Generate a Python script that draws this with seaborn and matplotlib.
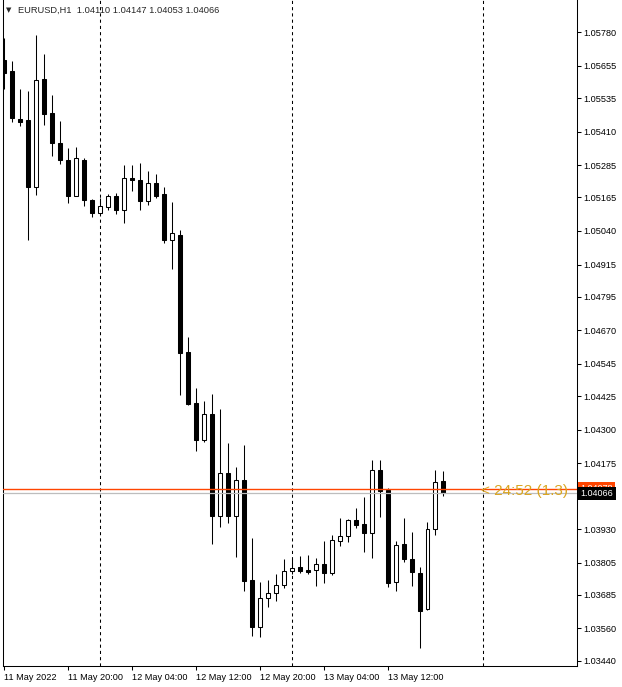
import numpy as np
import pandas as pd
import matplotlib
matplotlib.use("Agg")
import matplotlib.pyplot as plt
import seaborn as sns
from matplotlib.transforms import blended_transform_factory

# EURUSD H1 bars, 11 May 2022 12:00 .. 13 May 2022 19:00
opens = [1.05677, 1.05636, 1.05458, 1.05454, 1.05202, 1.05606, 1.05480, 1.05368, 1.05305, 1.05170,
         1.05305, 1.05157, 1.05106, 1.05131, 1.05171, 1.05118, 1.05238, 1.05231, 1.05150, 1.05220,
         1.05179, 1.05007, 1.05026, 1.04588, 1.04401, 1.04262, 1.04357, 1.03979, 1.04140, 1.03979,
         1.04114, 1.03740, 1.03566, 1.03672, 1.03691, 1.03720, 1.03772, 1.03787, 1.03777, 1.03776,
         1.03798, 1.03767, 1.03886, 1.03903, 1.03963, 1.03947, 1.03914, 1.04148, 1.04076, 1.03731,
         1.03873, 1.03817, 1.03765, 1.03631, 1.03932, 1.04110]
highs = [1.05758, 1.05673, 1.05568, 1.05562, 1.05770, 1.05699, 1.05547, 1.05450, 1.05350, 1.05354,
         1.05313, 1.05160, 1.05163, 1.05178, 1.05183, 1.05287, 1.05287, 1.05294, 1.05264, 1.05253,
         1.05205, 1.05149, 1.05045, 1.04646, 1.04454, 1.04406, 1.04432, 1.04376, 1.04249, 1.04160,
         1.04242, 1.03895, 1.03733, 1.03740, 1.03762, 1.03818, 1.03817, 1.03829, 1.03833, 1.03824,
         1.03885, 1.03906, 1.03971, 1.03969, 1.04007, 1.04048, 1.04186, 1.04186, 1.04081, 1.03884,
         1.03971, 1.03919, 1.03787, 1.03955, 1.04148, 1.04147]
lows = [1.05568, 1.05444, 1.05429, 1.05008, 1.05173, 1.05435, 1.05320, 1.05288, 1.05143, 1.05169,
        1.05132, 1.05091, 1.05104, 1.05118, 1.05103, 1.05068, 1.05187, 1.05117, 1.05138, 1.05161,
        1.04994, 1.04899, 1.04428, 1.04393, 1.04220, 1.04254, 1.03875, 1.03938, 1.03953, 1.03827,
        1.03700, 1.03533, 1.03529, 1.03641, 1.03663, 1.03711, 1.03762, 1.03767, 1.03763, 1.03719,
        1.03730, 1.03760, 1.03868, 1.03880, 1.03934, 1.03843, 1.03823, 1.03975, 1.03713, 1.03698,
        1.03808, 1.03719, 1.03486, 1.03629, 1.03906, 1.04053]
closes = [1.05630, 1.05459, 1.05444, 1.05202, 1.05603, 1.05477, 1.05366, 1.05303, 1.05169, 1.05313,
          1.05154, 1.05106, 1.05133, 1.05171, 1.05117, 1.05237, 1.05228, 1.05150, 1.05220, 1.05172,
          1.05005, 1.05033, 1.04585, 1.04395, 1.04262, 1.04357, 1.03979, 1.04140, 1.03979, 1.04114,
          1.03737, 1.03566, 1.03672, 1.03691, 1.03720, 1.03772, 1.03786, 1.03772, 1.03771, 1.03798,
          1.03767, 1.03888, 1.03903, 1.03962, 1.03946, 1.03914, 1.04148, 1.04072, 1.03730, 1.03869,
          1.03817, 1.03769, 1.03626, 1.03932, 1.04107, 1.04066]

start_time = "2022-05-11 12:00"
separators = ["2022-05-12 00:00", "2022-05-13 00:00", "2022-05-14 00:00"]

xtick_pos = [0, 8, 16, 24, 32, 40, 48]
xtick_labels = ["11 May 2022", "11 May 20:00", "12 May 04:00", "12 May 12:00",
                "12 May 20:00", "13 May 04:00", "13 May 12:00"]
ytick_labels = ["1.05780", "1.05655", "1.05535", "1.05410", "1.05285", "1.05165", "1.05040",
                "1.04915", "1.04795", "1.04670", "1.04545", "1.04425", "1.04300", "1.04175",
                "1.03930", "1.03805", "1.03685", "1.03560", "1.03440"]

bid = 1.04066
ask = 1.04078
header = "EURUSD,H1  1.04110 1.04147 1.04053 1.04066"
timer = "< 24:52 (1.3)"

# данные в таблицу
times = pd.date_range(start_time, periods=len(opens), freq="h")
df = pd.DataFrame({"time": times, "open": opens, "high": highs, "low": lows, "close": closes})
df["x"] = np.arange(len(df))
up = df["close"] >= df["open"]

sns.set_style("white")
plt.rcParams["font.family"] = ["Liberation Sans", "DejaVu Sans"]

fig = plt.figure(figsize=(6.22, 6.87), dpi=100)
ax = fig.add_axes([2.5 / 622, 1 - 666 / 687, 574.5 / 622, 666 / 687])

# разделители дней
for s in separators:
    sx = (pd.Timestamp(s) - times[0]) / pd.Timedelta(hours=1)
    ax.axvline(sx, color="black", lw=0.75, ls=(0, (3, 3)), zorder=1)

# свечи
ax.vlines(df["x"], df["low"], df["high"], color="black", lw=0.75, zorder=2)
ax.bar(df["x"], (df["close"] - df["open"]).abs(), bottom=np.minimum(df["open"], df["close"]),
       width=0.5, color=np.where(up, "white", "black"), edgecolor="black", lw=0.75, zorder=3)

# линии bid / ask
ax.axhline(ask, color="#FF4500", lw=1.0, zorder=4)
ax.axhline(bid, color="#BDBDBD", lw=0.9, zorder=4)

ax.set_xlim(-0.16, 71.7)
ax.set_ylim(1.03420, 1.05900)

ax.set_xticks(xtick_pos)
ax.set_xticklabels(xtick_labels, ha="left")
ax.yaxis.tick_right()
ax.set_yticks([float(v) for v in ytick_labels])
ax.set_yticklabels(ytick_labels)
ax.tick_params(axis="both", length=3, width=0.75, pad=1.5, labelsize=6.6, colors="black",
               direction="out")
ax.tick_params(axis="x", bottom=True, pad=2)
ax.tick_params(axis="y", right=True, left=False)

ax.spines["top"].set_visible(False)
for side in ["left", "right", "bottom"]:
    ax.spines[side].set_color("black")
    ax.spines[side].set_linewidth(0.75)

# таймер и метки цены
ax.text(59.75, bid + 0.00004, timer, color="#DAA520", fontsize=11, ha="left", va="center",
        zorder=5)
tr = blended_transform_factory(ax.transAxes, ax.transData)
ax.text(1 + 3.5 / 574.5, ask + 0.00003, "1.04078", transform=tr, ha="left", va="center",
        color="white", fontsize=6.5, clip_on=False, zorder=6,
        bbox=dict(boxstyle="square,pad=0.25", fc="#FF4500", ec="none"))
ax.text(1 + 3.5 / 574.5, bid - 0.00004, "1.04066", transform=tr, ha="left", va="center",
        color="white", fontsize=6.5, clip_on=False, zorder=7,
        bbox=dict(boxstyle="square,pad=0.25", fc="black", ec="none"))

# заголовок
fig.text(6 / 622, 1 - 10.5 / 687, "▼", fontsize=5, va="center", ha="left",
         family=["DejaVu Sans"])
fig.text(18 / 622, 1 - 10.5 / 687, header, fontsize=6.7, va="center", ha="left")

fig.savefig("out.png", dpi=100)
